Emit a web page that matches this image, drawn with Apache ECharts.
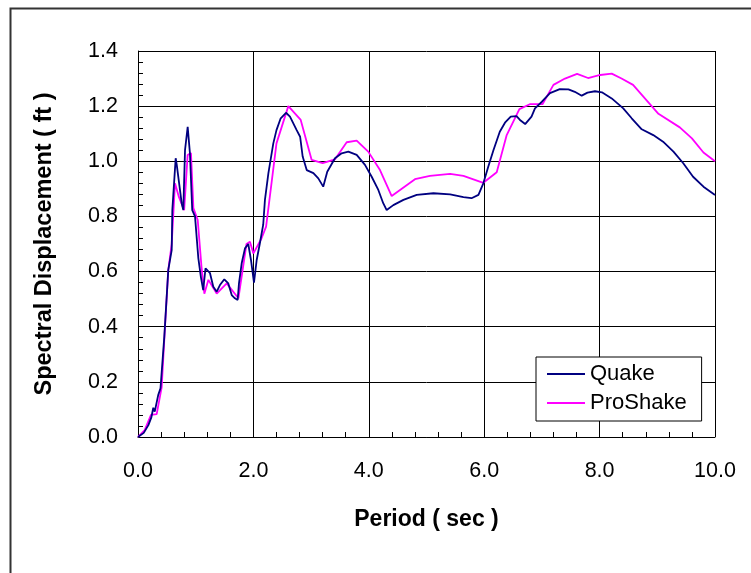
<!DOCTYPE html>
<html>
<head>
<meta charset="utf-8">
<script src="https://cdn.jsdelivr.net/npm/echarts@6/dist/echarts.min.js"></script>
<style>html,body{margin:0;padding:0;background:#fff}#c{width:751px;height:573px}</style>
</head>
<body>
<div id="c"></div>
<script>
var quakePeriod = [0,0.1,0.18,0.23,0.265,0.29,0.35,0.39,0.456,0.525,0.584,0.595,0.653,0.67,0.7,0.757,0.785,0.815,0.861,0.9,0.94,0.988,1.045,1.09,1.13,1.17,1.19,1.248,1.305,1.364,1.42,1.496,1.565,1.624,1.68,1.727,1.75,1.797,1.854,1.911,1.958,2.01,2.057,2.11,2.17,2.2,2.26,2.345,2.4,2.473,2.565,2.634,2.75,2.81,2.854,2.924,3.04,3.125,3.21,3.28,3.414,3.53,3.645,3.79,3.934,4.05,4.165,4.25,4.31,4.425,4.6,4.83,5.12,5.41,5.64,5.78,5.9,5.985,6.07,6.16,6.27,6.36,6.46,6.56,6.62,6.71,6.82,6.88,7.0,7.14,7.31,7.46,7.57,7.69,7.79,7.92,8.04,8.21,8.41,8.556,8.73,8.93,9.1,9.28,9.45,9.62,9.8,10.0];
var quakeDisp = [0,0.015,0.043,0.07,0.106,0.092,0.152,0.177,0.364,0.606,0.678,0.823,1.011,0.99,0.993,0.848,0.823,1.041,1.125,1.029,0.823,0.8,0.65,0.58,0.533,0.612,0.618,0.594,0.545,0.527,0.551,0.572,0.557,0.515,0.503,0.497,0.557,0.63,0.684,0.7,0.642,0.56,0.642,0.7,0.77,0.86,0.957,1.065,1.113,1.156,1.176,1.162,1.113,1.089,1.017,0.968,0.957,0.938,0.908,0.962,1.011,1.029,1.035,1.023,0.987,0.944,0.896,0.848,0.823,0.841,0.86,0.878,0.884,0.88,0.87,0.866,0.878,0.92,0.98,1.04,1.107,1.14,1.162,1.164,1.15,1.135,1.162,1.192,1.216,1.247,1.262,1.261,1.252,1.238,1.249,1.254,1.25,1.228,1.192,1.156,1.116,1.095,1.071,1.035,0.993,0.944,0.908,0.878];
var proPeriod = [0,0.116,0.225,0.324,0.41,0.468,0.525,0.584,0.641,0.71,0.8,0.86,0.918,0.96,1.035,1.1,1.15,1.22,1.364,1.537,1.74,1.88,1.94,2.0,2.14,2.22,2.4,2.605,2.82,3.01,3.2,3.414,3.617,3.79,3.99,4.194,4.397,4.8,5.06,5.41,5.64,5.985,6.217,6.39,6.61,6.79,7.01,7.2,7.4,7.61,7.8,8.01,8.21,8.38,8.58,9.02,9.39,9.6,9.8,10.0];
var proDisp = [0,0.025,0.08,0.083,0.18,0.4,0.606,0.7,0.92,0.87,0.823,1.023,1.03,0.83,0.787,0.618,0.52,0.57,0.52,0.557,0.503,0.7,0.708,0.666,0.72,0.763,1.065,1.2,1.15,1.005,0.993,1.007,1.069,1.075,1.035,0.968,0.874,0.935,0.947,0.954,0.947,0.922,0.96,1.095,1.189,1.207,1.207,1.277,1.3,1.317,1.302,1.313,1.318,1.3,1.277,1.172,1.123,1.083,1.032,1.0];
var seriesNames = ['Quake', 'ProShake'];
var xTitle = 'Period ( sec )';
var yTitle = 'Spectral Displacement ( ft )';

function zip(a, b) { return a.map(function (v, i) { return [v, b[i]]; }); }

var chart = echarts.init(document.getElementById('c'), null, {renderer: 'canvas'});
var font = 'Liberation Sans, Arial, sans-serif';
chart.setOption({
  animation: false,
  backgroundColor: '#fff',
  graphic: [{
    type: 'rect', left: 8, top: 6, z: 100, silent: true,
    shape: {width: 800, height: 700},
    style: {fill: 'none', stroke: '#333', lineWidth: 2}
  }],
  grid: {left: 138, top: 51, right: 36, bottom: 136, containLabel: false},
  legend: {
    orient: 'vertical', left: 536, top: 357,
    data: seriesNames,
    backgroundColor: '#fff', borderColor: '#000', borderWidth: 1,
    padding: [5, 15, 6, 11], itemGap: 5,
    itemWidth: 38, itemHeight: 2, icon: 'rect',
    textStyle: {fontFamily: font, fontSize: 22, color: '#000', lineHeight: 24}
  },
  xAxis: {
    type: 'value', min: 0, max: 10, interval: 2,
    name: xTitle, nameLocation: 'middle', nameGap: 71,
    nameTextStyle: {fontFamily: font, fontSize: 23, fontWeight: 'bold', color: '#000'},
    axisLine: {lineStyle: {color: '#000', width: 1}},
    axisTick: {show: true, inside: true, length: 5, lineStyle: {color: '#000'}},
    minorTick: {show: true, splitNumber: 5, length: 5, lineStyle: {color: '#000'}},
    splitLine: {show: true, lineStyle: {color: '#000', width: 1}},
    axisLabel: {fontFamily: font, fontSize: 21.5, color: '#000', margin: 23,
      formatter: function (v) { return v.toFixed(1); }}
  },
  yAxis: {
    type: 'value', min: 0, max: 1.4, interval: 0.2,
    name: yTitle, nameLocation: 'middle', nameGap: 81, nameRotate: 90,
    nameTextStyle: {fontFamily: font, fontSize: 23.5, fontWeight: 'bold', color: '#000'},
    axisLine: {show: true, lineStyle: {color: '#000', width: 1}},
    axisTick: {show: true, inside: true, length: 5, lineStyle: {color: '#000'}},
    minorTick: {show: true, splitNumber: 5, length: 5, lineStyle: {color: '#000'}},
    splitLine: {show: true, lineStyle: {color: '#000', width: 1}},
    axisLabel: {fontFamily: font, fontSize: 21.5, color: '#000', margin: 20,
      formatter: function (v) { return v.toFixed(1); }}
  },
  series: [{
    name: seriesNames[0], type: 'line', data: zip(quakePeriod, quakeDisp),
    showSymbol: false, symbol: 'none', z: 3,
    lineStyle: {color: '#000080', width: 1.8}, itemStyle: {color: '#000080'}
  }, {
    name: seriesNames[1], type: 'line', data: zip(proPeriod, proDisp),
    showSymbol: false, symbol: 'none', z: 2,
    lineStyle: {color: '#FF00FF', width: 1.8}, itemStyle: {color: '#FF00FF'}
  }]
});
</script>
</body>
</html>
